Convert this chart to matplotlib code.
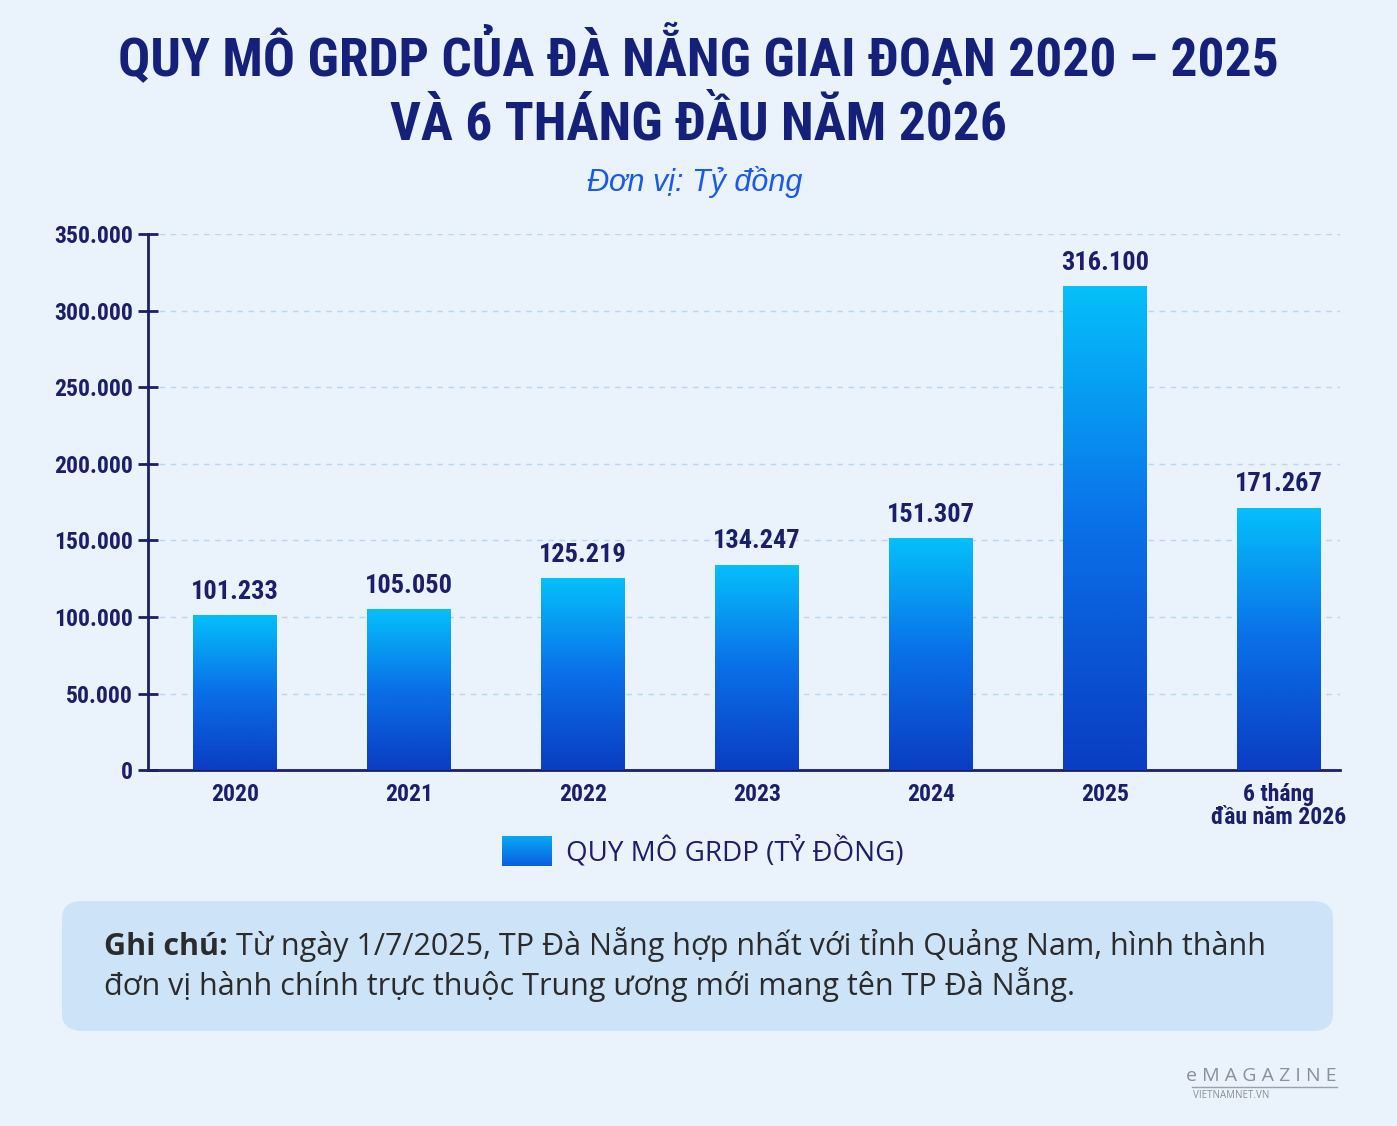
import numpy as np
import matplotlib.pyplot as plt
from matplotlib.patches import FancyBboxPatch
from matplotlib.colors import LinearSegmentedColormap

# data
categories = ["2020", "2021", "2022", "2023", "2024", "2025", "6 tháng\nđầu năm 2026"]
values = [101233, 105050, 125219, 134247, 151307, 316100, 171267]
value_labels = ["101.233", "105.050", "125.219", "134.247", "151.307", "316.100", "171.267"]
yticks = [0, 50000, 100000, 150000, 200000, 250000, 300000, 350000]
ytick_labels = ["0", "50.000", "100.000", "150.000", "200.000", "250.000", "300.000", "350.000"]

navy = "#1b1f6b"
bg = "#eaf2fb"
cond = ["Roboto Condensed", "DejaVu Sans"]
sans = ["Open Sans", "DejaVu Sans"]
ital = ["Liberation Sans", "DejaVu Sans"]

fig = plt.figure(figsize=(13.97, 11.26), dpi=100, facecolor=bg)
ax = fig.add_axes([0.106, 0.316, 0.853, 0.476])
ax.set_facecolor(bg)

grad = LinearSegmentedColormap.from_list("g", ["#0a3dc2", "#0a6fe8", "#05c0fa"])
x = np.arange(len(values))
bars = ax.bar(x, values, width=0.48, color="none", zorder=3)
img = np.linspace(0, 1, 256).reshape(-1, 1)
for b in bars:
    x0, w, h = b.get_x(), b.get_width(), b.get_height()
    im = ax.imshow(img, cmap=grad, origin="lower", aspect="auto",
                   extent=[x0, x0 + w, 0, h], zorder=3)
    im.set_clip_path(b)

for xi, v, lab in zip(x, values, value_labels):
    ax.text(xi, v + 7500, lab, ha="center", va="bottom", fontsize=19,
            fontweight="bold", fontstretch="condensed", color=navy, family=cond, zorder=4)

ax.set_xlim(-0.5, 6.35)
ax.set_ylim(0, 350000)
ax.set_yticks(yticks)
ax.set_yticklabels(ytick_labels, fontsize=17, fontweight="bold", fontstretch="condensed",
                   color=navy, family=cond)
ax.set_xticks(x)
ax.set_xticklabels(categories, fontsize=17, fontweight="bold", fontstretch="condensed",
                   color=navy, family=cond, linespacing=1.0)
ax.tick_params(axis="y", direction="inout", length=14, width=2, color=navy, pad=4)
ax.tick_params(axis="x", length=0, pad=9)
ax.grid(axis="y", linestyle=(0, (4, 4)), color="#b8d6f2", linewidth=1, zorder=0)
for s in ["top", "right"]:
    ax.spines[s].set_visible(False)
ax.spines["left"].set_color(navy)
ax.spines["left"].set_linewidth(2)
ax.spines["bottom"].set_color(navy)
ax.spines["bottom"].set_linewidth(2)

# titles
fig.text(0.5, 0.951, "QUY MÔ GRDP CỦA ĐÀ NẴNG GIAI ĐOẠN 2020 – 2025", ha="center", va="center",
         fontsize=38.5, fontweight="bold", fontstretch="condensed", color="#14207a", family=cond)
fig.text(0.5, 0.889, "VÀ 6 THÁNG ĐẦU NĂM 2026", ha="center", va="center",
         fontsize=38.5, fontweight="bold", fontstretch="condensed", color="#14207a", family=cond)
fig.text(0.497, 0.838, "Đơn vị: Tỷ đồng", ha="center", va="center", fontsize=22,
         style="italic", color="#1a5ae8", family=ital)

# legend
leg = LinearSegmentedColormap.from_list("l", ["#0a5fe0", "#08a8f4"])
lax = fig.add_axes([502 / 1397, 1 - 866 / 1126, 50 / 1397, 30 / 1126])
lax.imshow(np.linspace(0, 1, 64).reshape(-1, 1), cmap=leg, origin="lower", aspect="auto")
lax.axis("off")
fig.text(566 / 1397, 1 - 852 / 1126, "QUY MÔ GRDP (TỶ ĐỒNG)", ha="left", va="center",
         fontsize=20, color=navy, family=sans)

# note box
box = FancyBboxPatch((62 / 1397, 1 - 1031 / 1126), (1333 - 62) / 1397, 130 / 1126,
                     boxstyle="round,pad=0,rounding_size=0.015", transform=fig.transFigure,
                     facecolor="#cde4f8", edgecolor="none")
fig.patches.append(box)
y1, y2 = 1 - 955 / 1126, 1 - 995 / 1126
t1 = fig.text(104 / 1397, y1, "Ghi chú:", ha="left", va="baseline", fontsize=22,
              fontweight="bold", color="#2b2b2b", family=sans)
fig.add_artist(plt.annotate("Từ ngày 1/7/2025, TP Đà Nẵng hợp nhất với tỉnh Quảng Nam, hình thành",
                            xy=(1, y1), xycoords=(t1, "figure fraction"), xytext=(6, 0),
                            textcoords="offset points", ha="left", va="baseline",
                            fontsize=22, color="#2b2b2b", family=sans,
                            annotation_clip=False))
fig.text(104 / 1397, y2,
         "đơn vị hành chính trực thuộc Trung ương mới mang tên TP Đà Nẵng.",
         ha="left", va="baseline", fontsize=22, color="#2b2b2b", family=sans)

# watermark
fig.text(1337 / 1397, 1 - 1076 / 1126, "e M A G A Z I N E", ha="right", va="center",
         fontsize=14, color="#8a8f99", family=sans)
fig.add_artist(plt.Line2D([1192 / 1397, 1337 / 1397], [1 - 1087 / 1126] * 2,
                          color="#9aa0aa", linewidth=1))
fig.text(1193 / 1397, 1 - 1095 / 1126, "VIETNAMNET.VN", ha="left", va="center",
         fontsize=7, color="#8a8f99", family=sans)

fig.savefig("out.png", dpi=100, facecolor=bg)
